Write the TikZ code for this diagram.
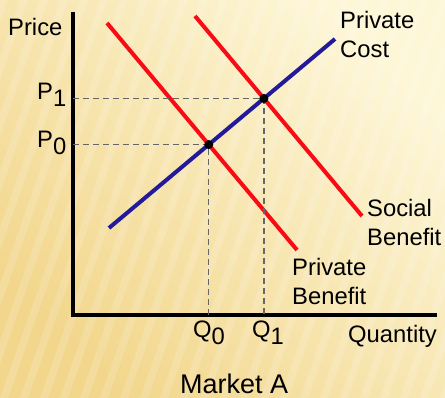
\documentclass[tikz,border=0pt]{standalone}
\usepackage{fontspec}
\setmainfont{Liberation Sans}
\usetikzlibrary{calc,intersections}
\definecolor{pcblue}{RGB}{35,25,155}
\definecolor{sbred}{RGB}{250,10,20}
\definecolor{bgdark}{RGB}{242,214,140}
\definecolor{bglight}{RGB}{253,246,215}
\def\drawaxis{\draw[line width=4pt]}
\def\drawcurve{\draw[line width=4pt]}
\def\drawguide{\draw[color=black!60, line width=1.4pt, dash pattern=on 6pt off 4pt]}
\def\eqnode{\node[circle,fill=black,inner sep=0pt,minimum size=9pt]}
\def\txtnode{\node[anchor=base west,inner sep=0pt,align=left]}
\newcommand\lowsub[1]{\raisebox{-7pt}{#1}}

\begin{document}
\begin{tikzpicture}[x=1pt,y=-1pt,font=\fontsize{23.8}{29}\selectfont]
\useasboundingbox (0,0) rectangle (445,398);
% paper with faint slanted stripes
\shade[bottom color=bgdark, top color=bglight, shading angle=-45] (0,0) rectangle (445,398);
\foreach \s in {-160,-140,...,440}
  \fill[white, opacity=0.15] (\s,398) -- (\s+8,398) -- (\s+148,0) -- (\s+140,0) -- cycle;
% axes
\coordinate (O) at (73,315);
\coordinate (ytop) at (73,12);
\coordinate (xend) at (437,315);
\drawaxis (ytop) -- (O) -- (xend);
% demand and supply lines
\coordinate (pb_a) at (107,23);
\coordinate (pb_b) at (297,250);
\coordinate (sb_a) at (195,16);
\coordinate (sb_b) at (362,216);
\coordinate (pc_a) at (109,228);
\coordinate (pc_b) at (335,39);
\drawcurve[sbred, name path=pb] (pb_a) -- (pb_b);
\drawcurve[sbred, name path=sb] (sb_a) -- (sb_b);
\drawcurve[pcblue, name path=pc] (pc_a) -- (pc_b);
\path[name intersections={of=pc and pb, by=eq0}];
\path[name intersections={of=pc and sb, by=eq1}];
% equilibria
\drawguide (eq0 -| O) -- (eq0) -- (eq0 |- O);
\drawguide (eq1 -| O) -- (eq1) -- (eq1 |- O);
\eqnode (dot0) at (eq0) {};
\eqnode (dot1) at (eq1) {};
% labels (base of a two-line label is its last line)
\txtnode (price) at (8,36) {Price};
\txtnode (p1) at (37,100) {P\lowsub{1}};
\txtnode (p0) at (37,148) {P\lowsub{0}};
\txtnode (q0) at (193,338) {Q\lowsub{0}};
\txtnode (q1) at (252,338) {Q\lowsub{1}};
\txtnode (qty) at (348,343) {Quantity};
\txtnode (pclab) at (340,58) {Private\\Cost};
\txtnode (sblab) at (367,246) {Social\\Benefit};
\txtnode (pblab) at (292,305) {Private\\Benefit};
\txtnode[font=\fontsize{27}{30}\selectfont] (market) at (180,393) {Market A};
\end{tikzpicture}
\end{document}
